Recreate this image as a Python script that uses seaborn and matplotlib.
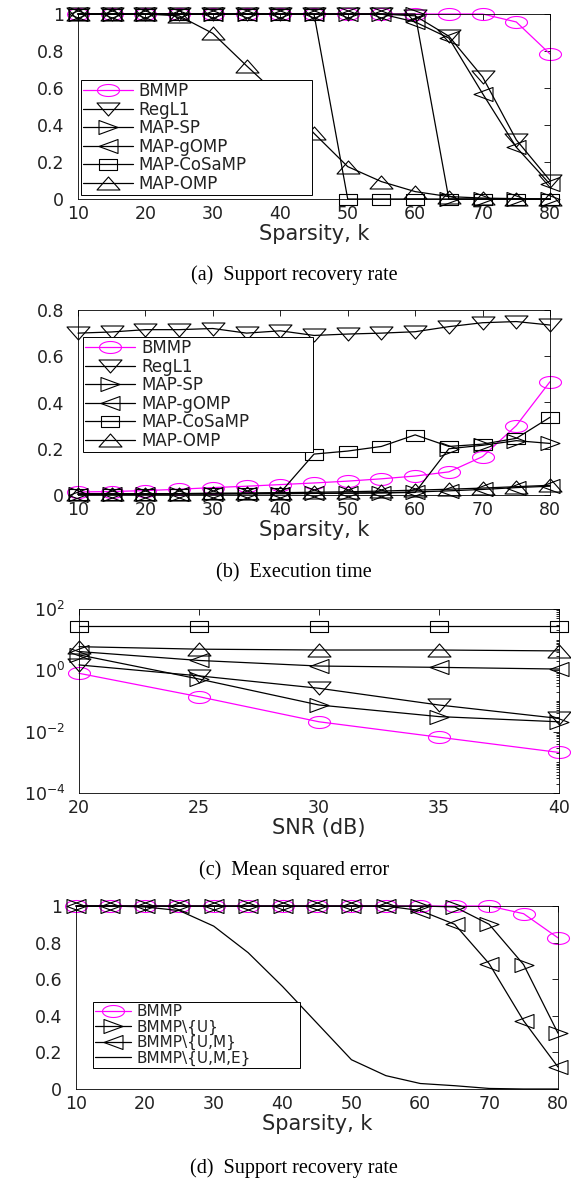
import numpy as np
import matplotlib
matplotlib.use("Agg")
import matplotlib.pyplot as plt
from matplotlib.path import Path
from matplotlib.ticker import FixedLocator, FixedFormatter, LogLocator, NullFormatter
import seaborn as sns

# ---- data ----
k = [10, 15, 20, 25, 30, 35, 40, 45, 50, 55, 60, 65, 70, 75, 80]
snr = [20, 25, 30, 35, 40]

# (a) support recovery rate
bmmp_a = [1, 1, 1, 1, 1, 1, 1, 1, 1, 1, 1, 1, 1, 0.957, 0.784]
regl1_a = [1, 1, 1, 1, 1, 1, 1, 1, 1, 1, 0.99, 0.88, 0.66, 0.32, 0.10]
sp_a = [1, 1, 1, 1, 1, 1, 1, 1, 1, 1, 1, 0, 0, 0, 0]
gomp_a = [1, 1, 1, 1, 1, 1, 1, 1, 1, 1, 0.957, 0.87, 0.57, 0.28, 0.08]
cosamp_a = [1, 1, 1, 1, 1, 1, 1, 1, 0, 0, 0, 0, 0, 0, 0]
omp_a = [1, 1, 1, 0.99, 0.895, 0.72, 0.55, 0.355, 0.175, 0.094, 0.04, 0.013, 0.005, 0.002, 0]

# (b) execution time
bmmp_b = [0.013, 0.015, 0.019, 0.025, 0.032, 0.038, 0.045, 0.052, 0.060, 0.070, 0.082, 0.10, 0.166, 0.30, 0.49]
regl1_b = [0.70, 0.705, 0.715, 0.715, 0.72, 0.70, 0.71, 0.69, 0.696, 0.70, 0.706, 0.728, 0.745, 0.75, 0.735]
sp_b = [0.004, 0.004, 0.004, 0.005, 0.005, 0.006, 0.006, 0.007, 0.008, 0.009, 0.011, 0.20, 0.215, 0.235, 0.223]
gomp_b = [0.002, 0.003, 0.003, 0.004, 0.004, 0.005, 0.006, 0.007, 0.008, 0.010, 0.013, 0.018, 0.024, 0.032, 0.038]
cosamp_b = [0.005, 0.005, 0.006, 0.006, 0.007, 0.007, 0.010, 0.177, 0.19, 0.21, 0.26, 0.21, 0.22, 0.245, 0.336]
omp_b = [0.004, 0.005, 0.005, 0.006, 0.007, 0.008, 0.010, 0.012, 0.014, 0.017, 0.021, 0.025, 0.030, 0.036, 0.042]

# (c) mean squared error
bmmp_c = [0.80, 0.138, 0.021, 0.0066, 0.0021]
regl1_c = [1.5, 0.66, 0.26, 0.074, 0.027]
sp_c = [3.2, 0.52, 0.074, 0.031, 0.021]
gomp_c = [4.1, 2.1, 1.38, 1.25, 1.1]
cosamp_c = [28, 28, 28, 28, 28]
omp_c = [5.9, 4.9, 4.6, 4.6, 4.3]

# (d) support recovery rate, ablation
bmmp_d = [1, 1, 1, 1, 1, 1, 1, 1, 1, 1, 1, 1, 1, 0.958, 0.826]
u_d = [1, 1, 1, 1, 1, 1, 1, 1, 1, 1, 1, 0.995, 0.90, 0.68, 0.305]
um_d = [1, 1, 1, 1, 1, 1, 1, 1, 1, 1, 0.975, 0.90, 0.685, 0.373, 0.12]
ume_d = [1, 1, 0.995, 0.975, 0.89, 0.745, 0.56, 0.36, 0.16, 0.073, 0.03, 0.018, 0.003, 0, 0]

names = ["BMMP", "RegL1", "MAP-SP", "MAP-gOMP", "MAP-CoSaMP", "MAP-OMP"]

W, H = 571, 1181
MAG = "#ff00ff"
INK = "#222222"
TICK_FS = 12.5
LAB_FS = 15

sns.set_style("white", {"axes.edgecolor": "black", "xtick.direction": "in",
                        "ytick.direction": "in"})
plt.rcParams["font.family"] = ["DejaVu Sans"]
plt.rcParams["text.color"] = INK
plt.rcParams["xtick.color"] = "black"
plt.rcParams["ytick.color"] = "black"
plt.rcParams["xtick.labelcolor"] = INK
plt.rcParams["ytick.labelcolor"] = INK


def shape(kind, w, h):
    # the original figure is stretched sideways, so markers are wider than tall
    if kind == "o":
        t = np.linspace(0, 2 * np.pi, 41)
        v = np.c_[w / 2 * np.cos(t), h / 2 * np.sin(t)]
    elif kind == "s":
        v = [(-w / 2, -h / 2), (w / 2, -h / 2), (w / 2, h / 2), (-w / 2, h / 2), (-w / 2, -h / 2)]
    elif kind == "^":
        v = [(-w / 2, -h / 2), (w / 2, -h / 2), (0, h / 2), (-w / 2, -h / 2)]
    elif kind == "v":
        v = [(-w / 2, h / 2), (w / 2, h / 2), (0, -h / 2), (-w / 2, h / 2)]
    elif kind == ">":
        v = [(-w / 2, -h / 2), (w / 2, 0), (-w / 2, h / 2), (-w / 2, -h / 2)]
    else:
        v = [(w / 2, -h / 2), (-w / 2, 0), (w / 2, h / 2), (w / 2, -h / 2)]
    v = np.asarray(v, float)
    return Path(v, closed=True), 2 * np.abs(v).max() * 0.72


MK = {"o": shape("o", 22, 12), "s": shape("s", 18, 11), "^": shape("^", 23, 13),
      "v": shape("v", 23, 13), ">": shape(">", 19, 14), "<": shape("<", 19, 14)}


def draw(ax, x, y, label, kind, color="black"):
    kw = dict(x=x, y=y, ax=ax, color=color, lw=0.9, estimator=None, clip_on=False)
    if label:
        kw["label"] = label
    if kind:
        path, ms = MK[kind]
        kw.update(marker=path, markersize=ms, markerfacecolor="none",
                  markeredgecolor=color, markeredgewidth=0.8)
    sns.lineplot(**kw)


def frame(box):
    l, t, r, b = box
    ax = fig.add_axes([l / W, 1 - b / H, (r - l) / W, (b - t) / H])
    ax.tick_params(which="both", direction="in", top=True, right=True, width=0.6)
    ax.tick_params(which="major", length=4)
    ax.tick_params(axis="x", labelsize=TICK_FS, pad=4)
    ax.tick_params(axis="y", labelsize=TICK_FS, pad=10)
    for s in ax.spines.values():
        s.set_linewidth(0.6)
        s.set_color("black")
    return ax


def legend(ax, x0, ytop, w, hl, fs):
    ax.legend(loc="upper left", bbox_to_anchor=(x0, ytop - 0.5, w, 0.5), mode="expand",
              borderaxespad=0, fontsize=fs, labelspacing=0.03, borderpad=0.12,
              handlelength=hl, handletextpad=0.35, numpoints=1, fancybox=False,
              framealpha=1, edgecolor="black")
    ax.get_legend().get_frame().set_linewidth(0.7)


def caption(y, s):
    fig.text(294 / W, 1 - y / H, s, ha="center", va="center",
             family="Liberation Serif", size=14.5, color="black")


fig = plt.figure(figsize=(W / 100, H / 100), dpi=100)
ylab01 = ["0", "0.2", "0.4", "0.6", "0.8", "1"]

# (a)
ax = frame((78, 14, 550, 199))
for y, n, m, c in zip([bmmp_a, regl1_a, sp_a, gomp_a, cosamp_a, omp_a], names,
                      ["o", "v", ">", "<", "s", "^"], [MAG] + ["black"] * 5):
    draw(ax, k, y, n, m, c)
ax.set_xlim(10, 80)
ax.set_ylim(0, 1)
ax.set_xticks(range(10, 81, 10))
ax.yaxis.set_major_locator(FixedLocator([0, 0.2, 0.4, 0.6, 0.8, 1]))
ax.yaxis.set_major_formatter(FixedFormatter(ylab01))
ax.set_xlabel("Sparsity, k", fontsize=LAB_FS, labelpad=1)
ax.set_ylabel("")
legend(ax, 0.006, 0.643, 0.49, 3.0, 12)
caption(275, "(a)  Support recovery rate")

# (b)
ax = frame((78, 310, 550, 495))
for y, n, m, c in zip([bmmp_b, regl1_b, sp_b, gomp_b, cosamp_b, omp_b], names,
                      ["o", "v", ">", "<", "s", "^"], [MAG] + ["black"] * 5):
    draw(ax, k, y, n, m, c)
ax.set_xlim(10, 80)
ax.set_ylim(0, 0.8)
ax.set_xticks(range(10, 81, 10))
ax.yaxis.set_major_locator(FixedLocator([0, 0.2, 0.4, 0.6, 0.8]))
ax.yaxis.set_major_formatter(FixedFormatter(["0", "0.2", "0.4", "0.6", "0.8"]))
ax.set_xlabel("Sparsity, k", fontsize=LAB_FS, labelpad=1)
ax.set_ylabel("")
legend(ax, 0.011, 0.854, 0.487, 3.0, 12)
caption(573, "(b)  Execution time")

# (c)
ax = frame((79, 609, 559, 793))
for y, m, c in zip([bmmp_c, regl1_c, sp_c, gomp_c, cosamp_c, omp_c],
                   ["o", "v", ">", "<", "s", "^"], [MAG] + ["black"] * 5):
    draw(ax, snr, y, None, m, c)
ax.set_yscale("log")
ax.set_xlim(20, 40)
ax.set_ylim(1e-4, 1e2)
ax.set_xticks(snr)
ax.yaxis.set_major_locator(FixedLocator([1e-4, 1e-2, 1, 1e2]))
ax.yaxis.set_major_formatter(FixedFormatter([r"$10^{-4}$", r"$10^{-2}$", r"$10^{0}$", r"$10^{2}$"]))
ax.yaxis.set_minor_locator(LogLocator(base=10, subs=np.arange(1, 10), numticks=30))
ax.yaxis.set_minor_formatter(NullFormatter())
ax.tick_params(which="minor", length=2)
ax.set_xlabel("SNR (dB)", fontsize=LAB_FS, labelpad=1)
ax.set_ylabel("")
if ax.get_legend():
    ax.get_legend().remove()
caption(870, "(c)  Mean squared error")

# (d)
ax = frame((76, 906, 558, 1089))
draw(ax, k, bmmp_d, "BMMP", "o", MAG)
draw(ax, k, u_d, "BMMP\\{U}", ">")
draw(ax, k, um_d, "BMMP\\{U,M}", "<")
draw(ax, k, ume_d, "BMMP\\{U,M,E}", None)
ax.set_xlim(10, 80)
ax.set_ylim(0, 1)
ax.set_xticks(range(10, 81, 10))
ax.yaxis.set_major_locator(FixedLocator([0, 0.2, 0.4, 0.6, 0.8, 1]))
ax.yaxis.set_major_formatter(FixedFormatter(ylab01))
ax.set_xlabel("Sparsity, k", fontsize=LAB_FS, labelpad=1)
ax.set_ylabel("")
legend(ax, 0.035, 0.475, 0.43, 2.4, 11)
caption(1168, "(d)  Support recovery rate")

fig.savefig("out.png", dpi=100)
